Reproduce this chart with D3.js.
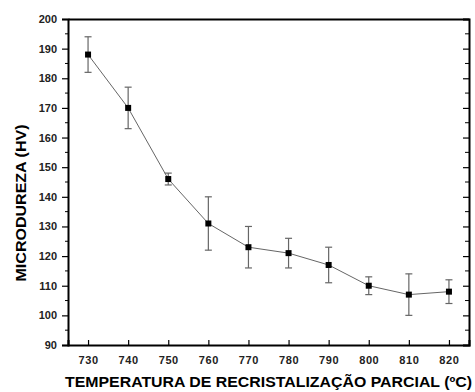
<!DOCTYPE html>
<html>
<head>
<meta charset="utf-8">
<script src="https://cdn.jsdelivr.net/npm/d3@7"></script>
<style>
  body { margin: 0; background: #fff; }
  text { font-family: "Liberation Sans", Arial, sans-serif; font-weight: bold; }
</style>
</head>
<body>
<div id="chart"></div>
<script>
// data
const temps = [730, 740, 750, 760, 770, 780, 790, 800, 810, 820];
const hardness = [188, 170, 146, 131, 123, 121, 117, 110, 107, 108];
const errors = [6, 7, 2, 9, 7, 5, 6, 3, 7, 4];
const xTicks = [730, 740, 750, 760, 770, 780, 790, 800, 810, 820];
const yTicks = [90, 100, 110, 120, 130, 140, 150, 160, 170, 180, 190, 200];

const width = 475, height = 392;
const margin = { top: 19, right: 6, bottom: 47, left: 68 };
const plotW = width - margin.left - margin.right;
const plotH = height - margin.top - margin.bottom;

const svg = d3.select('#chart').append('svg')
  .attr('width', width)
  .attr('height', height);

const g = svg.append('g')
  .attr('transform', `translate(${margin.left},${margin.top})`);

const x = d3.scaleLinear().domain([725, 825]).range([0, plotW]);
const y = d3.scaleLinear().domain([90, 200]).range([plotH, 0]);

const minorY = d3.range(95, 200, 10);

// left axis: ticks outside
const leftAxis = g.append('g')
  .call(d3.axisLeft(y).tickValues(yTicks).tickSize(6).tickPadding(5).tickFormat(d3.format('d')));
leftAxis.append('g').selectAll('line').data(minorY).join('line')
  .attr('x1', -3).attr('x2', 0)
  .attr('y1', d => y(d)).attr('y2', d => y(d))
  .attr('stroke', '#000');

// right axis: ticks inside
const rightAxis = g.append('g')
  .attr('transform', `translate(${plotW},0)`)
  .call(d3.axisRight(y).tickValues(yTicks).tickSize(-6).tickFormat(''));
rightAxis.append('g').selectAll('line').data(minorY).join('line')
  .attr('x1', -4).attr('x2', 0)
  .attr('y1', d => y(d)).attr('y2', d => y(d))
  .attr('stroke', '#000');

// bottom axis: ticks inside
const bottomAxis = g.append('g')
  .attr('transform', `translate(0,${plotH})`)
  .call(d3.axisBottom(x).tickValues(xTicks).tickSize(-5).tickPadding(11).tickFormat(d3.format('d')));

// top axis: plain line
const topAxis = g.append('g')
  .call(d3.axisTop(x).tickValues([]).tickSizeOuter(0));

[leftAxis, rightAxis, bottomAxis, topAxis].forEach(a => {
  a.select('.domain').attr('stroke-width', 2).attr('stroke', '#000');
  a.selectAll('.tick line').attr('stroke', '#000').attr('stroke-width', 1.2);
});
leftAxis.selectAll('.tick text')
  .style('font-size', '11px').attr('fill', '#222');
bottomAxis.selectAll('.tick text')
  .style('font-size', '11px').attr('fill', '#222').attr('letter-spacing', '0.6px');

// connecting line
const pts = temps.map((t, i) => ({ t, v: hardness[i], e: errors[i] }));
g.append('path')
  .datum(pts)
  .attr('fill', 'none')
  .attr('stroke', '#666')
  .attr('stroke-width', 1)
  .attr('d', d3.line().x(d => x(d.t)).y(d => y(d.v)));

// error bars
const eb = g.append('g').attr('stroke', '#666').attr('stroke-width', 1.2);
eb.selectAll('.stem').data(pts).join('line')
  .attr('x1', d => x(d.t)).attr('x2', d => x(d.t))
  .attr('y1', d => y(d.v + d.e)).attr('y2', d => y(d.v - d.e));
eb.selectAll('.capTop').data(pts).join('line')
  .attr('x1', d => x(d.t) - 3.5).attr('x2', d => x(d.t) + 3.5)
  .attr('y1', d => y(d.v + d.e)).attr('y2', d => y(d.v + d.e));
eb.selectAll('.capBot').data(pts).join('line')
  .attr('x1', d => x(d.t) - 3.5).attr('x2', d => x(d.t) + 3.5)
  .attr('y1', d => y(d.v - d.e)).attr('y2', d => y(d.v - d.e));

// markers
g.selectAll('.marker').data(pts).join('rect')
  .attr('x', d => x(d.t) - 3)
  .attr('y', d => y(d.v) - 3)
  .attr('width', 6).attr('height', 6)
  .attr('fill', '#000');

// axis titles
svg.append('text')
  .attr('x', 65)
  .attr('y', 387)
  .attr('textLength', 407)
  .attr('lengthAdjust', 'spacingAndGlyphs')
  .style('font-size', '14px')
  .text('TEMPERATURA DE RECRISTALIZAÇÃO PARCIAL (ºC)');

svg.append('text')
  .attr('transform', 'rotate(-90)')
  .attr('x', -203)
  .attr('y', 26)
  .attr('text-anchor', 'middle')
  .attr('textLength', 157)
  .attr('lengthAdjust', 'spacingAndGlyphs')
  .style('font-size', '15px')
  .text('MICRODUREZA (HV)');
</script>
</body>
</html>
